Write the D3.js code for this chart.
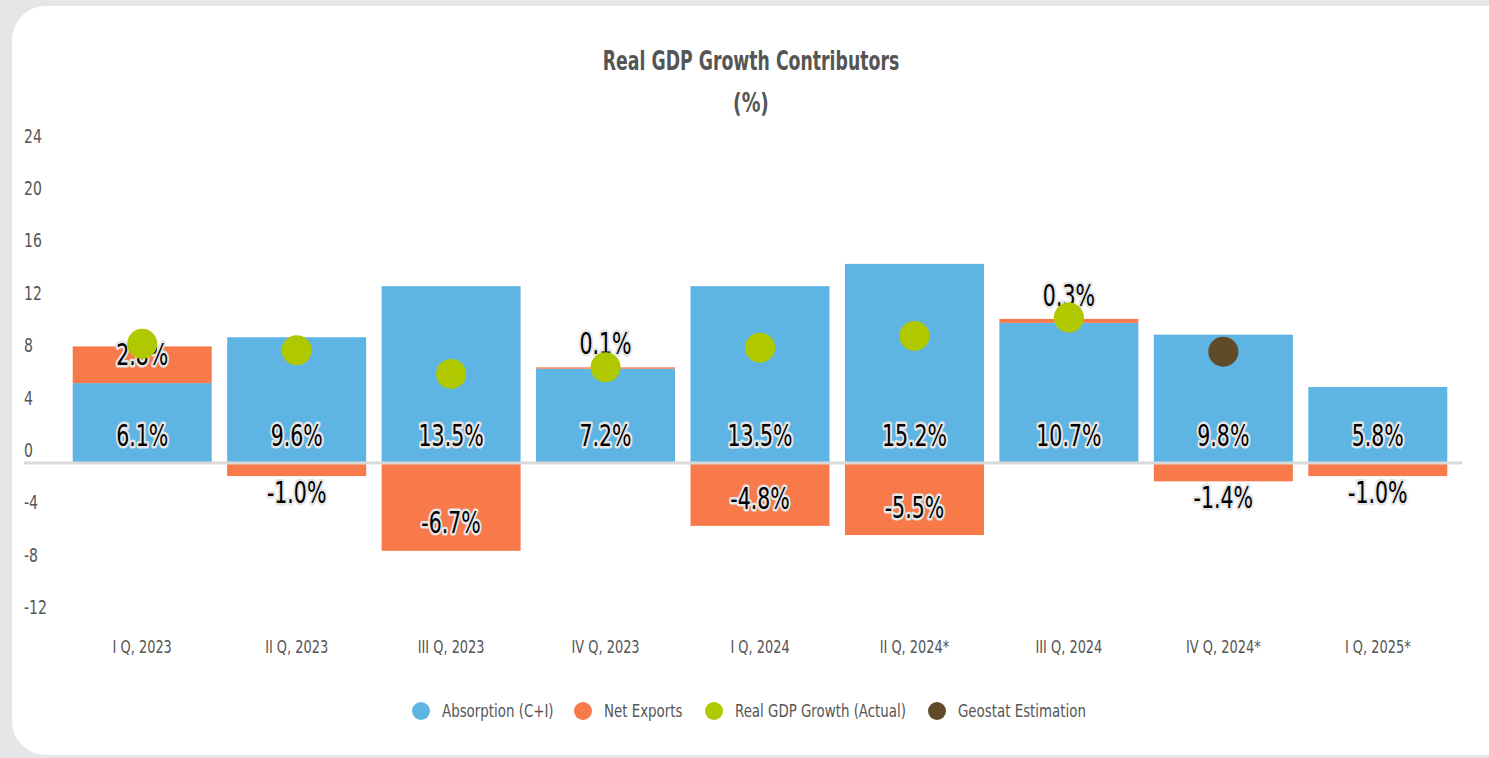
<!DOCTYPE html>
<html>
<head>
<meta charset="utf-8">
<script src="https://cdn.jsdelivr.net/npm/d3@7"></script>
<style>
  html, body { margin: 0; padding: 0; background: #e6e6e6; }
  svg { display: block; }
  text { font-family: "DejaVu Sans Condensed", "Roboto", sans-serif; }
</style>
</head>
<body>
<svg width="1489" height="758"></svg>
<script>
const categories = ['I Q, 2023', 'II Q, 2023', 'III Q, 2023', 'IV Q, 2023', 'I Q, 2024', 'II Q, 2024*', 'III Q, 2024', 'IV Q, 2024*', 'I Q, 2025*']
const absorption = [6.1, 9.6, 13.5, 7.2, 13.5, 15.2, 10.7, 9.8, 5.8]
const netExports = [2.8, -1.0, -6.7, 0.1, -4.8, -5.5, 0.3, -1.4, -1.0]
const gdpActual = [9.1, 8.6, 6.8, 7.3, 8.8, 9.7, 11.1, null, null]
const geostatEst = [null, null, null, null, null, null, null, 8.5, null]
const yTicks = [24, 20, 16, 12, 8, 4, 0, -4, -8, -12]

const legendItems = [
  { name: 'Absorption (C+I)', color: '#5eb5e3' },
  { name: 'Net Exports', color: '#f8794a' },
  { name: 'Real GDP Growth (Actual)', color: '#b0c800' },
  { name: 'Geostat Estimation', color: '#614a2a' }
]

// the original uses a narrow font, so squash the condensed one a bit
function squeeze(sel, k) {
  sel.each(function () {
    const t = d3.select(this)
    const tx = +t.attr('x'), ty = +t.attr('y')
    t.attr('x', 0).attr('y', 0)
     .attr('transform', `translate(${tx},${ty}) scale(${k},1)`)
  })
}

const svg = d3.select('svg')

// card
svg.append('rect')
  .attr('x', 12).attr('y', 6)
  .attr('width', 1510).attr('height', 749)
  .attr('rx', 34).attr('fill', '#fff')

const x = d3.scaleBand()
  .domain(categories)
  .range([65, 1455])
  .paddingInner(0.1)
  .paddingOuter(0.05)

const y = d3.scaleLinear()
  .domain([-12, 24])
  .range([620.2, 148.6])

// title
svg.append('text')
  .attr('x', 751).attr('y', 70)
  .attr('text-anchor', 'middle')
  .attr('font-size', 26).attr('font-weight', 'bold')
  .attr('fill', '#555')
  .text('Real GDP Growth Contributors')
  .call(squeeze, 0.74)
svg.append('text')
  .attr('x', 751).attr('y', 112)
  .attr('text-anchor', 'middle')
  .attr('font-size', 26).attr('font-weight', 'bold')
  .attr('fill', '#555')
  .text('(%)')
  .call(squeeze, 0.8)

// y tick labels (sit above their value line)
svg.append('g').selectAll('text')
  .data(yTicks)
  .enter()
  .append('text')
  .attr('x', 24)
  .attr('y', d => y(d) - 6)
  .attr('font-size', 19)
  .attr('fill', '#555')
  .text(d => d)
  .call(squeeze, 0.82)

// x axis labels
svg.append('g').selectAll('text')
  .data(categories)
  .enter()
  .append('text')
  .attr('x', d => x(d) + x.bandwidth() / 2)
  .attr('y', 653)
  .attr('text-anchor', 'middle')
  .attr('font-size', 18)
  .attr('fill', '#555')
  .text(d => d)
  .call(squeeze, 0.8)

const rows = categories.map((c, i) => ({ cat: c, abs: absorption[i], net: netExports[i], gdp: gdpActual[i], est: geostatEst[i] }))

// absorption bars
svg.append('g').selectAll('rect')
  .data(rows)
  .enter()
  .append('rect')
  .attr('x', d => x(d.cat))
  .attr('width', x.bandwidth())
  .attr('y', d => y(d.abs))
  .attr('height', d => y(0) - y(d.abs))
  .attr('fill', '#5eb5e3')

// net exports, stacked on absorption when positive
const netTop = d => d.net >= 0 ? y(d.abs + d.net) : y(0)
const netBottom = d => d.net >= 0 ? y(d.abs) : y(d.net)
svg.append('g').selectAll('rect')
  .data(rows)
  .enter()
  .append('rect')
  .attr('x', d => x(d.cat))
  .attr('width', x.bandwidth())
  .attr('y', netTop)
  .attr('height', d => netBottom(d) - netTop(d))
  .attr('fill', '#f8794a')

// zero line
svg.append('line')
  .attr('x1', 24).attr('x2', 1462)
  .attr('y1', y(0)).attr('y2', y(0))
  .attr('stroke', '#d9d9d9').attr('stroke-width', 3)

// value labels
const labels = svg.append('g')
  .attr('font-size', 30)
  .attr('fill', '#000')
  .attr('stroke', '#e6e6e6')
  .attr('stroke-width', 5)
  .attr('stroke-linejoin', 'round')
  .attr('paint-order', 'stroke')
  .attr('text-anchor', 'middle')
  .attr('dominant-baseline', 'central')

labels.selectAll('.abs-label')
  .data(rows)
  .enter()
  .append('text')
  .attr('x', d => x(d.cat) + x.bandwidth() / 2)
  .attr('y', y(0) - 28)
  .text(d => d.abs.toFixed(1) + '%')
  .call(squeeze, 0.76)

labels.selectAll('.net-label')
  .data(rows)
  .enter()
  .append('text')
  .attr('x', d => x(d.cat) + x.bandwidth() / 2)
  .attr('y', d => {
    const h = netBottom(d) - netTop(d)
    if (d.net < 0) return h > 45 ? netBottom(d) - 28 : netBottom(d) + 16
    return h > 30 ? netTop(d) + 8 : netTop(d) - 24
  })
  .text(d => d.net.toFixed(1) + '%')
  .call(squeeze, 0.76)

// dots
svg.append('g').selectAll('circle')
  .data(rows.filter(d => d.gdp != null))
  .enter()
  .append('circle')
  .attr('cx', d => x(d.cat) + x.bandwidth() / 2)
  .attr('cy', d => y(d.gdp))
  .attr('r', 15)
  .attr('fill', '#b0c800')

svg.append('g').selectAll('circle')
  .data(rows.filter(d => d.est != null))
  .enter()
  .append('circle')
  .attr('cx', d => x(d.cat) + x.bandwidth() / 2)
  .attr('cy', d => y(d.est))
  .attr('r', 15)
  .attr('fill', '#614a2a')

// legend
const legendX = [421, 583, 714, 937]
const legend = svg.append('g')
legend.selectAll('circle')
  .data(legendItems)
  .enter()
  .append('circle')
  .attr('cx', (d, i) => legendX[i])
  .attr('cy', 711)
  .attr('r', 9)
  .attr('fill', d => d.color)
legend.selectAll('text')
  .data(legendItems)
  .enter()
  .append('text')
  .attr('x', (d, i) => legendX[i] + 21)
  .attr('y', 717)
  .attr('font-size', 17.5)
  .attr('fill', '#555')
  .text(d => d.name)
  .call(squeeze, 0.85)
</script>
</body>
</html>
